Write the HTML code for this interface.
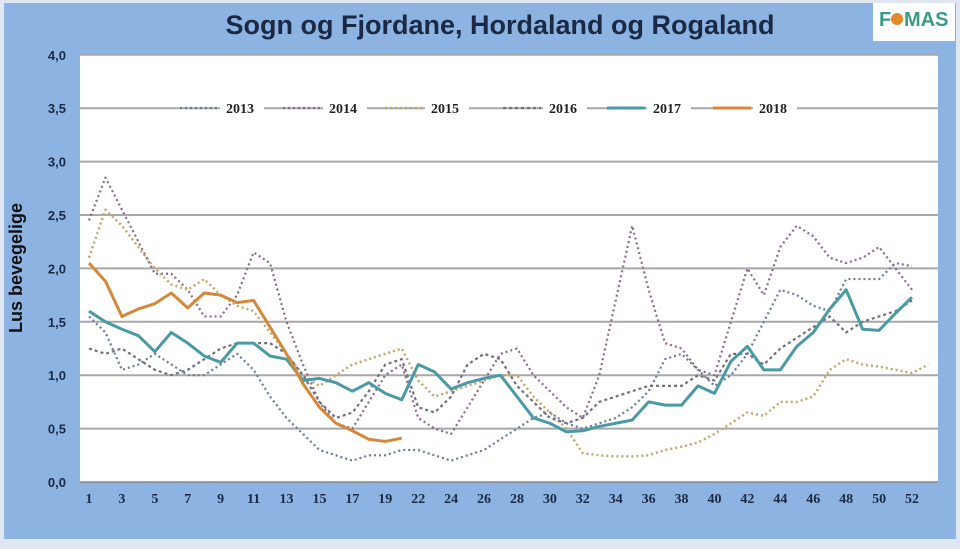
<!DOCTYPE html>
<html><head><meta charset="utf-8"><style>
body{margin:0;width:960px;height:544px;overflow:hidden;background:#dfe8f2;font-family:"Liberation Sans",sans-serif}
</style></head><body>
<svg width="960" height="544" xmlns="http://www.w3.org/2000/svg" id="s">
<rect x="4" y="3" width="952" height="536" fill="#8db3e2"/>
<rect x="80" y="54" width="858" height="428" fill="#fff"/>
<text x="500" y="34" text-anchor="middle" font-size="27" font-weight="bold" fill="#1b2a44">Sogn og Fjordane, Hordaland og Rogaland</text>
<rect x="873" y="3" width="82" height="38" fill="#fff"/>
<text x="879" y="26" font-size="20" font-weight="bold" fill="#3a9a8a">F</text>
<circle cx="897" cy="19" r="6" fill="#e08a2a"/>
<text x="904" y="26" font-size="20" font-weight="bold" fill="#3a9a8a">MAS</text>
<text x="22" y="268" font-size="18" font-weight="bold" fill="#111" transform="rotate(-90 22 268)" text-anchor="middle">Lus bevegelige</text>
<g id="g"></g>
</svg>
<script>
const NS="http://www.w3.org/2000/svg",g=document.getElementById('g');
function el(t,a,txt){const e=document.createElementNS(NS,t);for(const k in a)e.setAttribute(k,a[k]);if(txt)e.textContent=txt;g.appendChild(e);return e}
const X=w=>89+(w-1)*16.46,Y=v=>482-v*106.8;
for(let i=0;i<=8;i++){const v=i*0.5;if(i>0)el('line',{x1:80,x2:938,y1:Y(v),y2:Y(v),stroke:'#a8a8a8','stroke-width':2});
el('text',{x:66,y:Y(v)+5,'text-anchor':'end','font-size':13,'font-weight':'bold',fill:'#1b2a44'},v.toFixed(1).replace('.',','));}
el('line',{x1:80,x2:938,y1:482,y2:482,stroke:'#888','stroke-width':1.5});
const weeks=[];for(let w=1;w<=53;w++)if(w!==21)weeks.push(w);
for(let i=0;i<weeks.length;i+=2)if(weeks[i]<=52)el('text',{x:X(i+1),y:503,'text-anchor':'middle','font-size':14,'font-weight':'bold',fill:'#1b2a44','font-family':'Liberation Serif'},weeks[i]);
const S={
2013:[1.55,1.4,1.05,1.1,1.2,1.1,1.0,1.0,1.1,1.2,1.05,0.8,0.6,0.45,0.3,0.25,0.2,0.25,0.25,0.3,0.35,0.3,0.25,0.2,0.25,0.3,0.4,0.5,0.6,0.65,0.55,0.5,0.55,0.6,0.7,0.85,1.15,1.2,1.05,0.9,1.0,1.2,1.5,1.8,1.75,1.65,1.6,1.9,1.9,1.9,2.05,2.02],
2014:[2.45,2.85,2.55,2.25,1.95,1.95,1.8,1.55,1.55,1.75,2.15,2.05,1.5,1.1,0.75,0.55,0.5,0.75,1.0,1.1,0.9,0.6,0.5,0.45,0.7,0.95,1.2,1.25,1.0,0.85,0.7,0.6,1.0,1.7,2.4,1.8,1.3,1.25,1.05,1.0,1.5,2.0,1.75,2.2,2.4,2.3,2.1,2.05,2.1,2.2,2.0,1.8],
2015:[2.1,2.55,2.4,2.2,2.0,1.85,1.8,1.9,1.75,1.65,1.6,1.4,1.2,1.0,0.9,1.0,1.1,1.15,1.2,1.25,1.2,0.95,0.8,0.85,0.9,0.95,1.0,1.0,0.8,0.65,0.5,0.27,0.25,0.24,0.24,0.25,0.3,0.33,0.37,0.45,0.55,0.65,0.62,0.75,0.75,0.8,1.05,1.15,1.1,1.08,1.05,1.02,1.1],
2016:[1.25,1.2,1.25,1.15,1.05,1.0,1.05,1.15,1.25,1.3,1.3,1.3,1.2,1.0,0.75,0.6,0.65,0.85,1.1,1.15,1.05,0.7,0.65,0.8,1.1,1.2,1.15,0.9,0.75,0.6,0.55,0.6,0.75,0.8,0.85,0.9,0.9,0.9,1.0,0.95,1.2,1.2,1.1,1.25,1.35,1.45,1.55,1.4,1.5,1.55,1.6,1.7],
2017:[1.6,1.5,1.43,1.37,1.22,1.4,1.3,1.18,1.12,1.3,1.3,1.18,1.15,0.95,0.97,0.93,0.85,0.93,0.83,0.77,0.82,1.1,1.03,0.87,0.93,0.97,1.0,0.8,0.6,0.55,0.47,0.48,0.52,0.55,0.58,0.75,0.72,0.72,0.9,0.83,1.13,1.27,1.05,1.05,1.27,1.4,1.62,1.8,1.43,1.42,1.58,1.73],
2018:[2.05,1.88,1.55,1.62,1.67,1.77,1.63,1.77,1.75,1.68,1.7,1.45,1.2,0.92,0.7,0.55,0.48,0.4,0.38,0.41]};
for(const k of ['2013','2014','2015','2016','2017'])S[k].splice(20,1);
const st={2013:['#6a7a9a','2 3',2.2],2014:['#8a6a8a','2 3',2.2],2015:['#c0a86a','2 3',2.5],2016:['#707080','3 3',2.2],2017:['#4a9aa6',null,3],2018:['#d4893a',null,3]};
for(const k in S){const [c,d,w]=st[k];const a={points:S[k].map((v,i)=>X(i+1)+','+Y(v)).join(' '),fill:'none',stroke:c,'stroke-width':w,'stroke-linejoin':'round'};if(d)a['stroke-dasharray']=d;el('polyline',a);}
const L=[[2013,180],[2014,283],[2015,385],[2016,503],[2017,607],[2018,713]];
for(const [k,x] of L){const [c,d,w]=st[k];const a={x1:x,x2:x+38,y1:108,y2:108,stroke:c,'stroke-width':w};if(d)a['stroke-dasharray']=d;
el('rect',{x:x+40,y:98,width:44,height:18,fill:'#fff'});el('line',a);
el('text',{x:x+46,y:113,'font-size':14,'font-weight':'bold',fill:'#222','font-family':'Liberation Serif'},k);}
</script>
</body></html>
